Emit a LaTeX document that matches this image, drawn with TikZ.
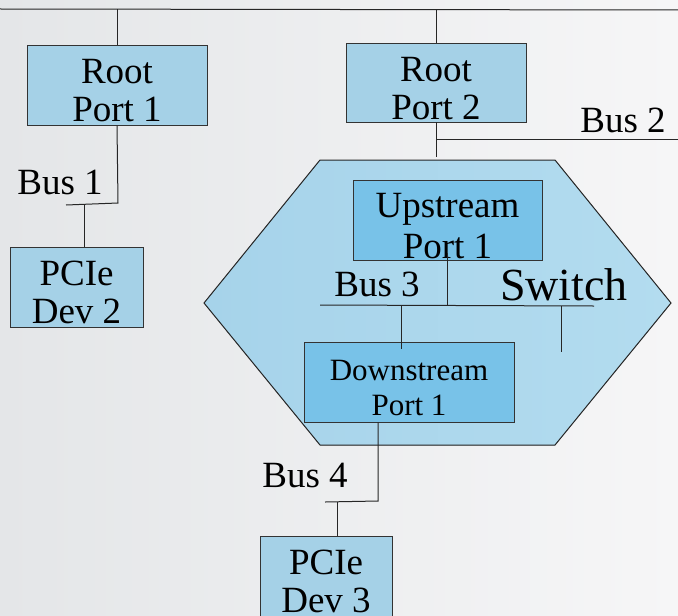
\documentclass[tikz,border=0pt]{standalone}
\usepackage{fontspec}
\setmainfont{Liberation Serif}
\usetikzlibrary{shapes,positioning}
\definecolor{portblue}{HTML}{A5D1E7}
\definecolor{swportblue}{HTML}{78C2E8}
\definecolor{hexleft}{HTML}{A6D3EA}
\definecolor{hexright}{HTML}{B3DCEF}
\definecolor{bgleft}{HTML}{E4E6E8}
\definecolor{bgright}{HTML}{F6F6F7}
\newcommand{\lift}{\rule{0pt}{18pt}}
\tikzset{
  port/.style={draw=black!80, fill=portblue, align=center, inner sep=0pt,
    font=\fontsize{18.5}{19}\selectfont},
  swport/.style={port, fill=swportblue},
  buslabel/.style={anchor=base, inner sep=0pt, font=\fontsize{18.5}{19}\selectfont},
  wire/.style={draw=black!85, line width=0.5pt}
}

\begin{document}
\begin{tikzpicture}[x=0.5pt,y=-0.5pt]
    \useasboundingbox (0,0) rectangle (678,615);
    \shade[left color=bgleft, right color=bgright] (0,0) rectangle (678,615);

    % the switch
    \filldraw[draw=black!85, line width=0.5pt, left color=hexleft, right color=hexright]
      (320,160) -- (555,160) -- (671,303) -- (555,445) -- (320,445) -- (204,303) -- cycle;
    \node[anchor=base, inner sep=0pt, font=\fontsize{23}{24}\selectfont] (swname) at (564,300) {Switch};

    % ports and devices
    \node[port, minimum width=90pt, minimum height=40pt] (rp1) at (117,85) {\lift Root\\Port 1};
    \node[port, minimum width=90pt, minimum height=39.5pt] (rp2) at (436,82.5) {\lift Root\\Port 2};
    \node[port, minimum width=66.5pt, minimum height=40pt] (dev2) at (76.5,287) {\lift PCIe\\Dev 2};
    \node[swport, minimum width=94.5pt, minimum height=40pt,
      font=\fontsize{18.5}{20.5}\selectfont] (up) at (447.5,220) {\lift Upstream\\Port 1};
    \node[swport, minimum width=105pt, minimum height=40pt,
      font=\fontsize{15.5}{17.3}\selectfont] (dn) at (409,382) {\rule{0pt}{16pt}Downstream\\Port 1};
    \node[port, minimum width=66pt, minimum height=40pt] (dev3) at (326,576) {\lift PCIe\\Dev 3};

    % bus labels
    \node[buslabel] (lb1) at (60,194) {Bus 1};
    \node[buslabel] (lb2) at (623,132) {Bus 2};
    \node[buslabel] (lb3) at (377,296) {Bus 3};
    \node[buslabel] (lb4) at (305,487) {Bus 4};

    % bus points
    \coordinate (b0l) at (0,9);
    \coordinate (b0r) at (678,10);
    \coordinate (b1r) at (118,203);
    \coordinate (b1l) at (66,205);
    \coordinate (b1d) at (84,205);
    \coordinate (b2l) at (436,139);
    \coordinate (b2r) at (678,139);
    \coordinate (swtop) at (436,157);
    \coordinate (b3l) at (320,305);
    \coordinate (b3r) at (594,306);
    \coordinate (b3d) at (401,305);
    \coordinate (stub) at (561,352);
    \coordinate (b4r) at (378,501);
    \coordinate (b4l) at (325,502);
    \coordinate (b4d) at (337,502);

    % wires
    \draw[wire] (b0l) -- (b0r);
    \draw[wire] (rp1.north) -- (rp1.north |- b0l);
    \draw[wire] (rp2.north) -- (rp2.north |- b0l);
    \draw[wire] (rp1.south) -- (b1r) -- (b1l);
    \draw[wire] (b1d) -- (b1d |- dev2.north);
    \draw[wire] (rp2.south) -- (swtop);
    \draw[wire] (b2l) -- (b2r);
    \draw[wire] (b3l) -- (b3r);
    \draw[wire] ([yshift=3.5pt]up.south) -- (up.south |- b3l);
    \draw[wire] (b3d) -- ([yshift=-3.5pt]b3d |- dn.north);
    \draw[wire] (stub |- b3r) -- (stub);
    \draw[wire] (b4r |- dn.south) -- (b4r) -- (b4l);
    \draw[wire] (b4d) -- (b4d |- dev3.north);
\end{tikzpicture}
\end{document}
